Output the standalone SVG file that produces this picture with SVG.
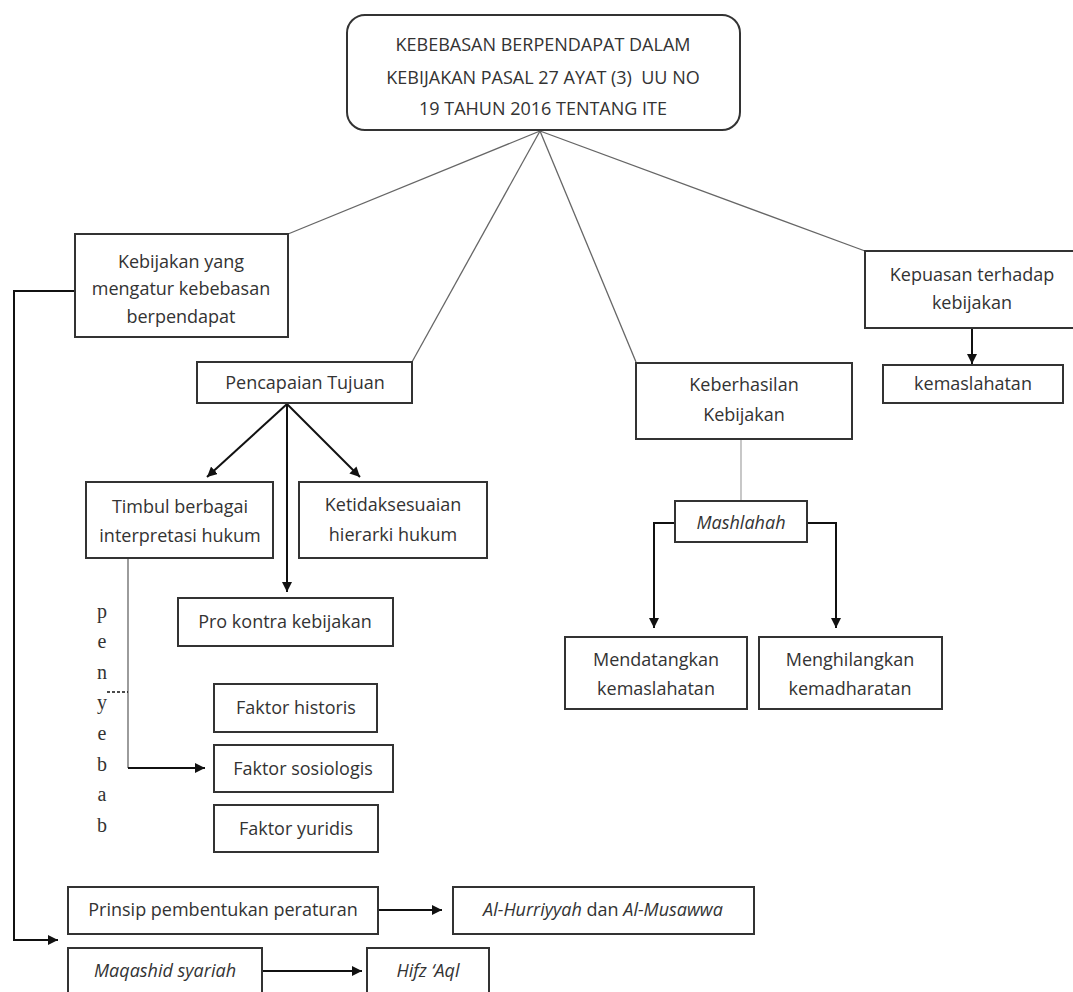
<svg xmlns="http://www.w3.org/2000/svg" width="1073" height="992" viewBox="0 0 1073 992">
<defs>
<marker id="ah" viewBox="0 0 10 10" refX="10" refY="5" markerWidth="10" markerHeight="10" markerUnits="userSpaceOnUse" orient="auto">
<path d="M0,0 L10,5 L0,10 z" fill="#111"/>
</marker>
</defs>
<style>
.box{fill:#fff;stroke:#333;stroke-width:2}
.t{font-family:"Open Sans","Liberation Sans",sans-serif;font-size:18px;fill:#333;text-anchor:middle}
.i{font-style:italic}
.thin{fill:none;stroke:#666;stroke-width:1.3}
.arr{fill:none;stroke:#111;stroke-width:2;marker-end:url(#ah)}
.ln{fill:none;stroke:#111;stroke-width:2}
.ser{font-family:"Liberation Serif","DejaVu Serif",serif;font-size:20px;fill:#333;text-anchor:middle}
</style>
<rect width="1073" height="992" fill="#fff"/>

<g id="connectors">
<line class="thin" x1="540" y1="131" x2="288" y2="234"/>
<line class="thin" x1="540" y1="131" x2="412" y2="362"/>
<line class="thin" x1="540" y1="131" x2="636" y2="362"/>
<line class="thin" x1="540" y1="131" x2="865" y2="251"/>
<path class="ln" d="M75,291 H14 V940 H48"/>
<path class="arr" d="M40,940 H58"/>
<line class="arr" x1="287" y1="404" x2="207" y2="477"/>
<line class="arr" x1="287" y1="404" x2="360" y2="477"/>
<line class="arr" x1="287" y1="404" x2="287" y2="592"/>
<path class="thin" d="M128,558 V768"/>
<path class="arr" d="M128,768 H205"/>
<line x1="107" y1="692" x2="128" y2="692" stroke="#111" stroke-width="1.5" stroke-dasharray="3,2"/>
<line x1="972" y1="328" x2="972" y2="364" class="arr"/>
<line x1="741" y1="439" x2="741" y2="501" stroke="#aaa" stroke-width="1.3"/>
<path class="arr" d="M675,523 H654 V628"/>
<path class="arr" d="M807,523 H836 V628"/>
<line class="arr" x1="378" y1="910" x2="442" y2="910"/>
<line class="arr" x1="262" y1="971" x2="362" y2="971"/>
</g>

<g id="title">
<rect class="box" x="347" y="15" width="393" height="115" rx="18"/>
<text class="t" x="543" y="51">KEBEBASAN BERPENDAPAT DALAM</text>
<text class="t" x="543" y="84" xml:space="preserve">KEBIJAKAN PASAL 27 AYAT (3)  UU NO</text>
<text class="t" x="543" y="115">19 TAHUN 2016 TENTANG ITE</text>
</g>

<g id="kebijakan">
<rect class="box" x="75" y="234" width="213" height="103"/>
<text class="t" x="181" y="268">Kebijakan yang</text>
<text class="t" x="181" y="295">mengatur kebebasan</text>
<text class="t" x="181" y="323">berpendapat</text>
</g>

<g id="pencapaian">
<rect class="box" x="197" y="362" width="215" height="41"/>
<text class="t" x="305" y="389">Pencapaian Tujuan</text>
</g>

<g id="keberhasilan">
<rect class="box" x="636" y="363" width="216" height="76"/>
<text class="t" x="744" y="391">Keberhasilan</text>
<text class="t" x="744" y="421">Kebijakan</text>
</g>

<g id="kepuasan">
<rect class="box" x="865" y="251" width="215" height="77"/>
<text class="t" x="972" y="281">Kepuasan terhadap</text>
<text class="t" x="972" y="309">kebijakan</text>
</g>

<g id="kemaslahatan1">
<rect class="box" x="883" y="365" width="180" height="38"/>
<text class="t" x="973" y="390">kemaslahatan</text>
</g>

<g id="timbul">
<rect class="box" x="86" y="482" width="187" height="76"/>
<text class="t" x="180" y="513">Timbul berbagai</text>
<text class="t" x="180" y="542">interpretasi hukum</text>
</g>

<g id="ketidaksesuaian">
<rect class="box" x="299" y="482" width="188" height="76"/>
<text class="t" x="393" y="511">Ketidaksesuaian</text>
<text class="t" x="393" y="541">hierarki hukum</text>
</g>

<g id="prokontra">
<rect class="box" x="178" y="598" width="215" height="48"/>
<text class="t" x="285" y="628">Pro kontra kebijakan</text>
</g>

<g id="mashlahah">
<rect class="box" x="675" y="501" width="132" height="41"/>
<text class="t i" x="741" y="529">Mashlahah</text>
</g>

<g id="mendatangkan">
<rect class="box" x="565" y="637" width="182" height="72"/>
<text class="t" x="656" y="666">Mendatangkan</text>
<text class="t" x="656" y="695">kemaslahatan</text>
</g>

<g id="menghilangkan">
<rect class="box" x="759" y="637" width="183" height="72"/>
<text class="t" x="850" y="666">Menghilangkan</text>
<text class="t" x="850" y="695">kemadharatan</text>
</g>

<g id="penyebab">
<text class="ser" x="102" y="618">p</text>
<text class="ser" x="102" y="648">e</text>
<text class="ser" x="102" y="679">n</text>
<text class="ser" x="102" y="709">y</text>
<text class="ser" x="102" y="740">e</text>
<text class="ser" x="102" y="771">b</text>
<text class="ser" x="102" y="801">a</text>
<text class="ser" x="102" y="832">b</text>
</g>

<g id="historis">
<rect class="box" x="214" y="684" width="163" height="48"/>
<text class="t" x="296" y="714">Faktor historis</text>
</g>

<g id="sosiologis">
<rect class="box" x="214" y="745" width="179" height="47"/>
<text class="t" x="303" y="775">Faktor sosiologis</text>
</g>

<g id="yuridis">
<rect class="box" x="214" y="805" width="164" height="47"/>
<text class="t" x="296" y="835">Faktor yuridis</text>
</g>

<g id="prinsip">
<rect class="box" x="68" y="887" width="310" height="47"/>
<text class="t" x="223" y="916">Prinsip pembentukan peraturan</text>
</g>

<g id="hurriyyah">
<rect class="box" x="453" y="887" width="301" height="47"/>
<text class="t" x="603" y="916"><tspan class="i">Al-Hurriyyah</tspan> dan <tspan class="i">Al-Musawwa</tspan></text>
</g>

<g id="maqashid">
<rect class="box" x="68" y="948" width="194" height="60"/>
<text class="t i" x="165" y="977">Maqashid syariah</text>
</g>

<g id="hifz">
<rect class="box" x="367" y="948" width="122" height="60"/>
<text class="t i" x="428" y="977">Hifz ‘Aql</text>
</g>
</svg>
